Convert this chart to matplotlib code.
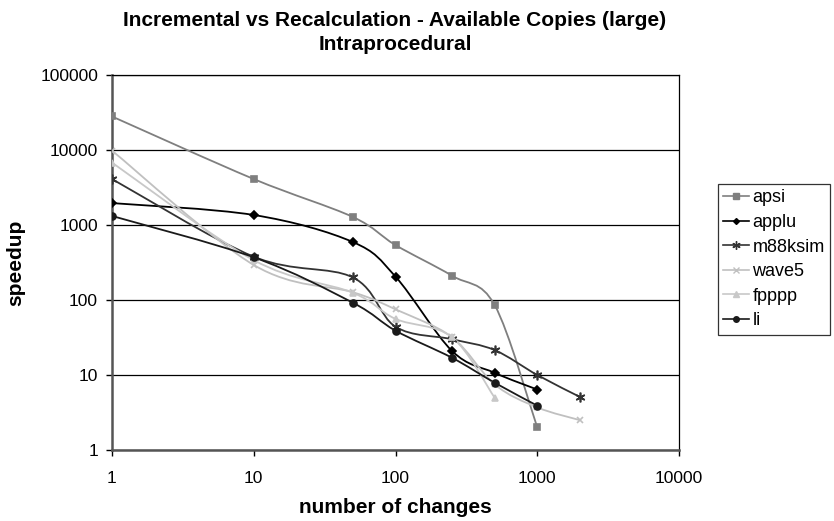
import numpy as np
import matplotlib
matplotlib.use('agg')
import matplotlib.pyplot as plt
from matplotlib.path import Path
import matplotlib.patches as patches

plt.rcParams['font.family'] = ['Liberation Sans', 'DejaVu Sans']

x_apsi = [1, 10, 50, 100, 250, 500, 1000]
apsi = [28000, 4100, 1280, 540, 211, 86, 2.0]
x_applu = [1, 10, 50, 100, 250, 500, 1000]
applu = [1960, 1360, 593, 205, 21, 10.7, 6.4]
x_m88 = [1, 10, 50, 100, 250, 500, 1000, 2000]
m88ksim = [4100, 378, 200, 44, 30, 21.5, 10, 5.1]
x_wave5 = [1, 10, 50, 100, 250, 500, 1000, 2000]
wave5 = [9800, 293, 127, 75, 32, 7.5, 3.7, 2.5]
x_fpppp = [1, 10, 50, 100, 250, 500]
fpppp = [6800, 340, 125, 56, 32, 5.0]
x_li = [1, 10, 50, 100, 250, 500, 1000]
li = [1320, 371, 92, 39, 17, 7.9, 3.9]

series = [
    ('apsi', x_apsi, apsi, '#7f7f7f', 's', 5),
    ('applu', x_applu, applu, '#000000', 'D', 4),
    ('m88ksim', x_m88, m88ksim, '#333333', (6, 2, 0), 7),
    ('wave5', x_wave5, wave5, '#c0c0c0', 'x', 5),
    ('fpppp', x_fpppp, fpppp, '#c8c8c8', '^', 5),
    ('li', x_li, li, '#1a1a1a', 'o', 5),
]


def smooth_path(xs, ys):
    # excel-style bezier smoothing, done in log space
    p = np.column_stack([np.log10(xs), np.log10(ys)])
    n = len(p)
    verts = [tuple(10 ** p[0])]
    codes = [Path.MOVETO]
    for i in range(n - 1):
        p0 = p[i - 1] if i > 0 else p[i]
        p3 = p[i + 2] if i + 2 < n else p[i + 1]
        c1 = p[i] + (p[i + 1] - p0) / 6
        c2 = p[i + 1] - (p3 - p[i]) / 6
        verts += [tuple(10 ** c1), tuple(10 ** c2), tuple(10 ** p[i + 1])]
        codes += [Path.CURVE4] * 3
    return Path(verts, codes)


fig = plt.figure(figsize=(8.34, 5.21), dpi=100)
ax = fig.add_axes([112 / 834, 1 - 450 / 521, 567 / 834, 375 / 521])
ax.set_xscale('log')
ax.set_yscale('log')
ax.set_xlim(1, 10000)
ax.set_ylim(1, 100000)

for name, xs, ys, col, mk, ms in series:
    ax.add_patch(patches.PathPatch(smooth_path(xs, ys), facecolor='none',
                                   edgecolor=col, lw=1.3, zorder=3))
    ax.plot(xs, ys, ls='none', marker=mk, color=col, ms=ms, mew=1.2, zorder=4)
    ax.plot([], [], color=col, marker=mk, ms=ms - 1, mew=1.0, lw=1.2, label=name)

ax.yaxis.grid(True, color='black', lw=0.9)
ax.set_axisbelow(True)
ax.minorticks_off()
ax.set_xticks([1, 10, 100, 1000, 10000])
ax.set_xticklabels(['1', '10', '100', '1000', '10000'])
ax.set_yticks([1, 10, 100, 1000, 10000, 100000])
ax.set_yticklabels(['1', '10', '100', '1000', '10000', '100000'])
ax.tick_params(labelsize=12.5, direction='out', length=4, width=1)
ax.tick_params(axis='x', pad=11)
ax.tick_params(axis='y', pad=6)
for s in ax.spines.values():
    s.set_color('black')
    s.set_linewidth(0.9)
ax.spines['left'].set_color('#555555')
ax.spines['left'].set_linewidth(1.8)
ax.spines['bottom'].set_color('#555555')
ax.spines['bottom'].set_linewidth(1.8)

ax.set_xlabel('number of changes', fontsize=15, fontweight='bold')
ax.xaxis.set_label_coords(0.5, -0.128)
ax.set_ylabel('speedup', fontsize=15, fontweight='bold')
ax.yaxis.set_label_coords(-0.153, 0.5)
fig.text(395 / 834, 1 - 20 / 521, 'Incremental vs Recalculation - Available Copies (large)',
         ha='center', va='center', fontsize=15, fontweight='bold')
fig.text(395 / 834, 1 - 44 / 521, 'Intraprocedural',
         ha='center', va='center', fontsize=15, fontweight='bold')

leg = ax.legend(loc='upper left', bbox_to_anchor=(718 / 834, 1 - 184 / 521),
                bbox_transform=fig.transFigure, borderaxespad=0, fontsize=13,
                frameon=True, fancybox=False, edgecolor='black', borderpad=0.3,
                handlelength=1.4, handletextpad=0.2, labelspacing=0.42)
leg.get_frame().set_linewidth(0.9)

fig.savefig('out.png', dpi=100)
